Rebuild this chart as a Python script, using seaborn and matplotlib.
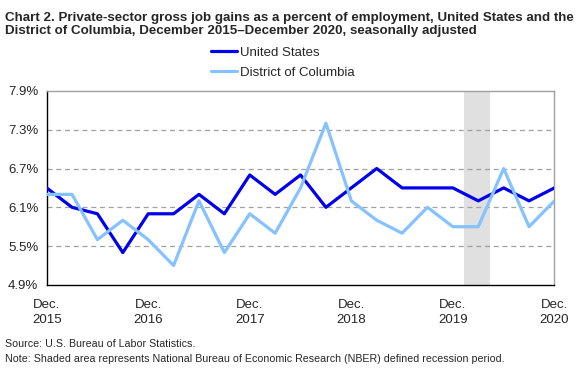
import numpy as np
import pandas as pd
import matplotlib
matplotlib.use("Agg")
import matplotlib.pyplot as plt
import seaborn as sns

# quarterly, Dec 2015 .. Dec 2020
quarters = list(range(21))
us_rate = [6.4, 6.1, 6.0, 5.4, 6.0, 6.0, 6.3, 6.0, 6.6, 6.3, 6.6,
           6.1, 6.4, 6.7, 6.4, 6.4, 6.4, 6.2, 6.4, 6.2, 6.4]
dc_rate = [6.3, 6.3, 5.6, 5.9, 5.6, 5.2, 6.2, 5.4, 6.0, 5.7, 6.4,
           7.4, 6.2, 5.9, 5.7, 6.1, 5.8, 5.8, 6.7, 5.8, 6.2]
tick_labels = ["Dec.\n2015", "Dec.\n2016", "Dec.\n2017", "Dec.\n2018", "Dec.\n2019", "Dec.\n2020"]
y_ticks = [4.9, 5.5, 6.1, 6.7, 7.3, 7.9]
recession = (16.45, 17.45)

df = pd.DataFrame({
    "q": quarters * 2,
    "rate": us_rate + dc_rate,
    "area": ["United States"] * 21 + ["District of Columbia"] * 21,
})

sns.set_style("white")
plt.rcParams["font.family"] = ["Liberation Sans", "DejaVu Sans"]

fig = plt.figure(figsize=(5.83, 3.71), dpi=100)
ax = fig.add_axes([0.080, 0.232, 0.871, 0.523])

ax.axvspan(recession[0], recession[1], color="#e0e0e0", lw=0, zorder=0)
for y in y_ticks[1:-1]:
    ax.axhline(y, color="#a0a0a0", lw=0.9, ls=(0, (4, 3)), zorder=1)

sns.lineplot(data=df, x="q", y="rate", hue="area",
             hue_order=["United States", "District of Columbia"],
             palette={"United States": "#0000ee", "District of Columbia": "#85c2ff"},
             linewidth=2.3, ax=ax, zorder=3)

ax.set_xlim(0, 20)
ax.set_ylim(4.9, 7.9)
ax.set_yticks(y_ticks)
ax.set_yticklabels([f"{v:.1f}%" for v in y_ticks], fontsize=9.5)
ax.set_xticks(quarters)
ax.set_xticklabels([tick_labels[i // 4] if i % 4 == 0 else "" for i in quarters],
                   fontsize=9.5, linespacing=1.35)
ax.tick_params(axis="both", direction="out", length=4, width=0.8, color="black", pad=2)
ax.tick_params(axis="x", pad=6)
ax.set_xlabel("")
ax.set_ylabel("")

for s in ["left", "bottom"]:
    ax.spines[s].set_color("black")
    ax.spines[s].set_linewidth(1.0)
for s in ["top", "right"]:
    ax.spines[s].set_color("#a0a0a0")
    ax.spines[s].set_linewidth(1.0)

ax.legend(loc="lower center", bbox_to_anchor=(0.465, 1.015), ncol=1, frameon=False,
          fontsize=9.5, handlelength=2.0, handletextpad=0.2, labelspacing=0.6,
          borderaxespad=0.3)

fig.text(0.009, 0.968,
         "Chart 2. Private-sector gross job gains as a percent of employment, United States and the\n"
         "District of Columbia, December 2015\u2013December 2020, seasonally adjusted",
         fontsize=9.6, fontweight="bold", va="top", ha="left", linespacing=1.15)

fig.text(0.009, 0.073, "Source: U.S. Bureau of Labor Statistics.", fontsize=7.7, va="center")
fig.text(0.009, 0.033,
         "Note: Shaded area represents National Bureau of Economic Research (NBER) defined recession period.",
         fontsize=7.7, va="center")

fig.savefig("out.png", dpi=100)
